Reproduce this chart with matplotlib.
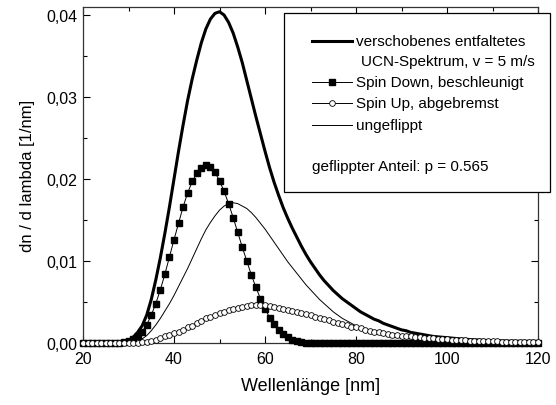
import numpy as np
import matplotlib
matplotlib.use("Agg")
import matplotlib.pyplot as plt
from matplotlib.patches import Rectangle
from matplotlib.lines import Line2D
from matplotlib.ticker import MultipleLocator, FuncFormatter

plt.rcParams['font.family'] = ['Liberation Sans', 'DejaVu Sans']

# wavelength grid [nm], one point per nm
wellenlaenge = np.arange(20, 121, 1)

# shifted unfolded UCN spectrum (thick line)
gesamt = [0, 0, 0, 0, 0, 0, 0, 0, 0.00005, 0.0001,
          0.0003, 0.0007, 0.0013, 0.0021, 0.0034, 0.0053, 0.0077, 0.0104, 0.0134, 0.0166,
          0.0200, 0.0234, 0.0266, 0.0296, 0.0322, 0.0345, 0.0366, 0.0383, 0.0395, 0.0402,
          0.0404, 0.0400, 0.0391, 0.0378, 0.0361, 0.0342, 0.0320, 0.0298, 0.0276, 0.0255,
          0.0234, 0.0214, 0.0196, 0.0180, 0.0165, 0.0152, 0.0140, 0.0129, 0.0118, 0.0108,
          0.0099, 0.0091, 0.0083, 0.0076, 0.0070, 0.0064, 0.0059, 0.0054, 0.0050, 0.0046,
          0.0042, 0.0038, 0.0035, 0.0032, 0.0029, 0.0027, 0.0024, 0.0022, 0.0020, 0.0018,
          0.0016, 0.0015, 0.0013, 0.0012, 0.0011, 0.0010, 0.0009, 0.0008, 0.00075, 0.0007,
          0.00065, 0.0006, 0.00055, 0.0005, 0.00046, 0.00042, 0.00039, 0.00036, 0.00033, 0.0003,
          0.00028, 0.00026, 0.00024, 0.00022, 0.0002, 0.00019, 0.00018, 0.00017, 0.00016, 0.00015,
          0.00014]

# spin down, accelerated (filled squares)
spin_down = [0, 0, 0, 0, 0, 0, 0, 0.00002, 0.00005, 0.0001,
             0.0002, 0.0005, 0.0009, 0.0014, 0.0022, 0.0034, 0.0048, 0.0065, 0.0084, 0.0105,
             0.0126, 0.0146, 0.0166, 0.0183, 0.0197, 0.0207, 0.0214, 0.0217, 0.0215, 0.0208,
             0.0198, 0.0185, 0.0170, 0.0153, 0.0135, 0.0117, 0.0100, 0.0083, 0.0068, 0.0054,
             0.0042, 0.0031, 0.0023, 0.0016, 0.0011, 0.0007, 0.0004, 0.0002, 0.0001, 0.00005,
             0.00002, 0, 0, 0, 0, 0, 0, 0, 0, 0,
             0, 0, 0, 0, 0, 0, 0, 0, 0, 0,
             0, 0, 0, 0, 0, 0, 0, 0, 0, 0,
             0, 0, 0, 0, 0, 0, 0, 0, 0, 0,
             0, 0, 0, 0, 0, 0, 0, 0, 0, 0,
             0]

# spin up, decelerated (open circles)
spin_up = [0, 0, 0, 0, 0, 0, 0, 0, 0, 0,
           0, 0.00002, 0.00004, 0.00008, 0.00015, 0.00025, 0.0004, 0.0006, 0.0008, 0.0010,
           0.0012, 0.0014, 0.0016, 0.0019, 0.0021, 0.0024, 0.0027, 0.0030, 0.0032, 0.0034,
           0.0036, 0.0038, 0.0040, 0.0041, 0.0043, 0.0044, 0.0045, 0.0046, 0.0046, 0.0046,
           0.0046, 0.0045, 0.0044, 0.0043, 0.0042, 0.0040, 0.0039, 0.0038, 0.0036, 0.0035,
           0.0034, 0.0032, 0.0031, 0.0029, 0.0028, 0.0026, 0.0025, 0.0023, 0.0022, 0.0020,
           0.0019, 0.0018, 0.0016, 0.0015, 0.0014, 0.0013, 0.0012, 0.0011, 0.0010, 0.00095,
           0.0009, 0.00085, 0.0008, 0.00075, 0.0007, 0.00065, 0.0006, 0.00056, 0.00052, 0.00048,
           0.00045, 0.00042, 0.00039, 0.00036, 0.00033, 0.0003, 0.00028, 0.00026, 0.00024, 0.00022,
           0.0002, 0.00019, 0.00017, 0.00016, 0.00015, 0.00014, 0.00013, 0.00012, 0.00011, 0.0001,
           0.0001]

# unflipped part (thin line)
ungeflippt = [0, 0, 0, 0, 0, 0, 0, 0, 0, 0,
              0.00003, 0.0001, 0.0002, 0.0005, 0.0009, 0.0015, 0.0022, 0.0030, 0.0039, 0.0048,
              0.0058, 0.0069, 0.0080, 0.0091, 0.0103, 0.0115, 0.0127, 0.0138, 0.0147, 0.0155,
              0.0162, 0.0167, 0.0170, 0.0171, 0.0170, 0.0167, 0.0164, 0.0159, 0.0153, 0.0146,
              0.0139, 0.0131, 0.0123, 0.0115, 0.0107, 0.0099, 0.0092, 0.0085, 0.0078, 0.0071,
              0.0065, 0.0059, 0.0053, 0.0048, 0.0043, 0.0038, 0.0034, 0.0030, 0.0027, 0.0024,
              0.0021, 0.0019, 0.0017, 0.0015, 0.0013, 0.0011, 0.0010, 0.0009, 0.0008, 0.0007,
              0.0006, 0.00055, 0.0005, 0.00045, 0.0004, 0.00036, 0.00033, 0.0003, 0.00027, 0.00024,
              0.00022, 0.0002, 0.00018, 0.00016, 0.00015, 0.00013, 0.00012, 0.00011, 0.0001, 0.00009,
              0.00008, 0.00007, 0.00007, 0.00006, 0.00006, 0.00005, 0.00005, 0.00004, 0.00004, 0.00004,
              0.00003]

xticks = [20, 40, 60, 80, 100, 120]
yticks = [0.00, 0.01, 0.02, 0.03, 0.04]

fig = plt.figure(figsize=(5.56, 4.06), dpi=100)
ax = fig.add_axes([83 / 556, 1 - 344 / 406, 455 / 556, 336.2 / 406])

ax.plot(wellenlaenge, gesamt, color='black', lw=2.2, zorder=3)
ax.plot(wellenlaenge, spin_down, color='black', lw=0.7, marker='s', ms=3.9,
        mfc='black', mec='black', clip_on=False, zorder=4)
ax.plot(wellenlaenge, spin_up, color='black', lw=0.7, marker='o', ms=4.1,
        mfc='white', mec='black', mew=0.6, clip_on=False, zorder=5)
ax.plot(wellenlaenge, ungeflippt, color='black', lw=0.7, zorder=3)

ax.set_xlim(20, 120)
ax.set_ylim(0, 0.041)
ax.set_xticks(xticks)
ax.set_yticks(yticks)
ax.xaxis.set_minor_locator(MultipleLocator(10))
ax.yaxis.set_minor_locator(MultipleLocator(0.005))
ax.yaxis.set_major_formatter(FuncFormatter(lambda v, p: ('%.2f' % v).replace('.', ',')))
ax.tick_params(which='both', direction='in', top=True, right=True, labelsize=11.5)
ax.tick_params(which='major', length=5, width=0.8)
ax.tick_params(which='minor', length=3, width=0.8)
ax.tick_params(axis='x', pad=6)
ax.tick_params(axis='y', pad=4)
for s in ax.spines.values():
    s.set_linewidth(0.9)
    s.set_color('#333333')

ax.set_xlabel('Wellenlänge [nm]', fontsize=13, labelpad=8)
ax.set_ylabel('dn / d lambda [1/nm]', fontsize=12, labelpad=8)

# legend box drawn by hand
box = Rectangle((0.4418, 0.4491), 0.5846, 0.5324, transform=ax.transAxes,
                facecolor='white', edgecolor='black', lw=0.9, clip_on=False, zorder=10)
ax.add_patch(box)

x0, x1, xm, xt = 0.5024, 0.5903, 0.5464, 0.600
rows = [0.8974, 0.7772, 0.7139, 0.6484]
kw = dict(transform=ax.transAxes, clip_on=False, zorder=11, color='black')
ax.add_line(Line2D([x0, x1], [rows[0], rows[0]], lw=2.2, **kw))
ax.add_line(Line2D([x0, x1], [rows[1], rows[1]], lw=0.7, **kw))
ax.add_line(Line2D([xm], [rows[1]], marker='s', ms=3.9, mfc='black', mec='black', lw=0, **kw))
ax.add_line(Line2D([x0, x1], [rows[2], rows[2]], lw=0.7, **kw))
ax.add_line(Line2D([xm], [rows[2]], marker='o', ms=4.1, mfc='white', mec='black', mew=0.6,
                   lw=0, **kw))
ax.add_line(Line2D([x0, x1], [rows[3], rows[3]], lw=0.7, **kw))

tkw = dict(transform=ax.transAxes, fontsize=11, va='center', ha='left', zorder=12)
ax.text(xt, rows[0], 'verschobenes entfaltetes', **tkw)
ax.text(0.6103, 0.8379, 'UCN-Spektrum, v = 5 m/s', **tkw)
ax.text(xt, rows[1], 'Spin Down, beschleunigt', **tkw)
ax.text(xt, rows[2], 'Spin Up, abgebremst', **tkw)
ax.text(xt, rows[3], 'ungeflippt', **tkw)
ax.text(x0, 0.5274, 'geflippter Anteil: p = 0.565', **tkw)

fig.savefig('out.png', dpi=100)
